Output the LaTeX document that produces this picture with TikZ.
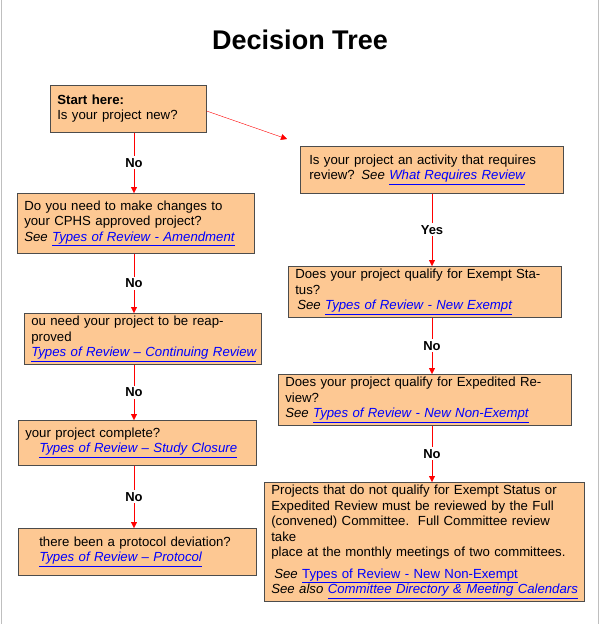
\documentclass[tikz,border=0pt]{standalone}
\usepackage{fontspec}
\setmainfont{Liberation Sans}
\usetikzlibrary{arrows.meta}
\definecolor{boxfill}{HTML}{FDC893}
\newcommand{\lnk}[1]{\textcolor{blue}{\underline{#1}}}
\begin{document}
\begin{tikzpicture}[x=1pt, y=-1pt,
semithick,
block/.style={draw=black!70, fill=boxfill, rectangle, anchor=north west, align=left,
  font=\fontsize{13.2}{15.5}\selectfont, inner xsep=7pt, inner ysep=3pt},
flow/.style={draw=red, -{Triangle[width=6pt,length=6pt]}, thin},
answer/.style={fill=white, font=\bfseries\fontsize{13}{15}\selectfont, inner sep=2pt}]

\useasboundingbox (0,0) rectangle (600,624);
\draw[gray!50] (1,0) -- (1,624) (598,0) -- (598,624);

\node[font=\bfseries\fontsize{27}{30}\selectfont] (title) at (300,40) {Decision Tree};

\node[block, minimum width=156pt, minimum height=47pt, text width=142pt] (start) at (50,85)
 {\textbf{Start here:}\\Is your project new?};
\node[block, minimum width=263pt, minimum height=47pt, text width=249pt] (active) at (300,146)
 {\hspace*{2pt}Is your project an activity that requires\\\hspace*{2pt}review? \textit{See} \textit{\lnk{What Requires Review}}};

\node[block, minimum width=237pt, minimum height=60pt, text width=223pt] (amend) at (17,193)
 {Do you need to make changes to\\your CPHS approved project?\\\textit{See \lnk{Types of Review - Amendment}}};
\node[block, minimum width=237pt, minimum height=44pt, text width=223pt] (cont) at (24,313)
 {ou need your project to be reapproved\\\textit{\lnk{Types of Review -- Continuing Review}}};
\node[block, minimum width=238pt, minimum height=45pt, text width=224pt] (close) at (18,420)
 {your project complete?\\\hspace*{14pt}\textit{\lnk{Types of Review -- Study Closure}}};
\node[block, minimum width=238pt, minimum height=47pt, text width=224pt] (dev) at (18,528)
 {\hspace*{14pt}there been a protocol deviation?\\\hspace*{14pt}\textit{\lnk{Types of Review -- Protocol}}};

\node[block, minimum width=273pt, minimum height=46pt, text width=259pt] (exempt) at (288,266)
 {Does your project qualify for Exempt Status?\\\hspace*{2pt}\textit{See \lnk{Types of Review - New Exempt}}};
\node[block, minimum width=293pt, minimum height=46pt, text width=279pt] (exped) at (278,374)
 {Does your project qualify for Expedited Review?\\\textit{See \lnk{Types of Review - New Non-Exempt}}};
\node[block, minimum width=320pt, minimum height=119pt, text width=306pt] (full) at (264,482)
 {Projects that do not qualify for Exempt Status or\\Expedited Review must be reviewed by the Full\\(convened) Committee.\ \ Full Committee review take\\place at the monthly meetings of two committees.\\[6pt]
 \hspace*{3pt}\textit{See} \lnk{Types of Review - New Non-Exempt}\\\textit{See also \lnk{Committee Directory \& Meeting Calendars}}};

% left column
\draw[flow] (start.south -| 134,0) -- node[answer]{No} (amend.north -| 134,0);
\draw[flow] (amend.south -| 134,0) -- node[answer]{No} (cont.north -| 134,0);
\draw[flow] (cont.south -| 134,0) -- node[answer]{No} (close.north -| 134,0);
\draw[flow] (close.south -| 134,0) -- node[answer]{No} (dev.north -| 134,0);

% right column
\draw[flow] (start.east |- 0,111) -- (287,139);
\draw[flow] (active.south -| 432,0) -- node[answer]{Yes} (exempt.north -| 432,0);
\draw[flow] (exempt.south -| 432,0) -- node[answer]{No} (exped.north -| 432,0);
\draw[flow] (exped.south -| 432,0) -- node[answer]{No} (full.north -| 432,0);
\end{tikzpicture}
\end{document}
